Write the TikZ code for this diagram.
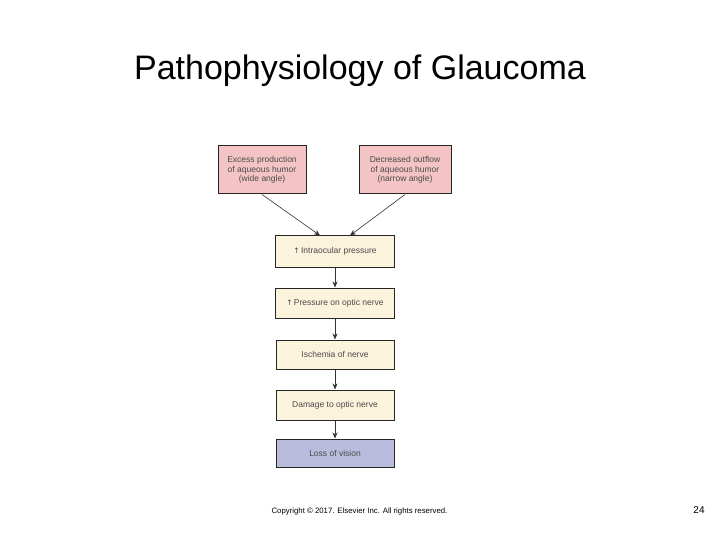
\documentclass[tikz,border=0pt]{standalone}
\usepackage{fontspec}
\setmainfont{Liberation Sans}
\newfontfamily\symfont{DejaVu Sans}
\usetikzlibrary{arrows.meta}
\definecolor{pinkbox}{HTML}{F4C4C4}
\definecolor{creambox}{HTML}{FCF3DD}
\definecolor{lavbox}{HTML}{B9BCDD}
\definecolor{txtgray}{HTML}{4A4A4A}
\begin{document}
\begin{tikzpicture}[x=1pt,y=-1pt,
  box/.style={draw=black!85, line width=1pt, inner sep=0pt, text=txtgray,
    font=\fontsize{8.5}{9.5}\selectfont, align=center},
  conn/.style={draw=black!80, line width=0.6pt, -{Stealth[length=6pt,width=5pt]}}]
\useasboundingbox (0,0) rectangle (720,540);
\node (title) at (360,71) {\fontsize{34}{38}\selectfont Pathophysiology of Glaucoma};
\node[box, fill=pinkbox, minimum width=88pt, minimum height=48pt] (a) at (262,170) {Excess production\\of aqueous humor\\(wide angle)};
\node[box, fill=pinkbox, minimum width=92pt, minimum height=48pt] (b) at (405,170) {Decreased outflow\\of aqueous humor\\(narrow angle)};
\node[box, fill=creambox, minimum width=119pt, minimum height=32pt] (c) at (335,251) {{\symfont\fontsize{7.5}{9}\selectfont ↑}\,Intraocular pressure};
\node[box, fill=creambox, minimum width=119pt, minimum height=30pt] (d) at (335,303) {{\symfont\fontsize{7.5}{9}\selectfont ↑}\,Pressure on optic nerve};
\node[box, fill=creambox, minimum width=118pt, minimum height=29pt] (e) at (335,354.5) {Ischemia of nerve};
\node[box, fill=creambox, minimum width=118pt, minimum height=30pt] (f) at (335,405) {Damage to optic nerve};
\node[box, fill=lavbox, minimum width=118pt, minimum height=28pt] (g) at (335,453) {Loss of vision};
\draw[conn] (a.south) -- (320,235.5);
\draw[conn] (b.south) -- (350,235.5);
\draw[conn] (c) -- (d);
\draw[conn] (d) -- (e);
\draw[conn] (e) -- (f);
\draw[conn] (f) -- (g);
\node (copy) at (359.5,511) {\fontsize{7.8}{8.5}\selectfont Copyright © 2017. Elsevier Inc. All rights reserved.};
\node (pg) at (699,510) {\fontsize{10}{11}\selectfont 24};
\end{tikzpicture}
\end{document}
